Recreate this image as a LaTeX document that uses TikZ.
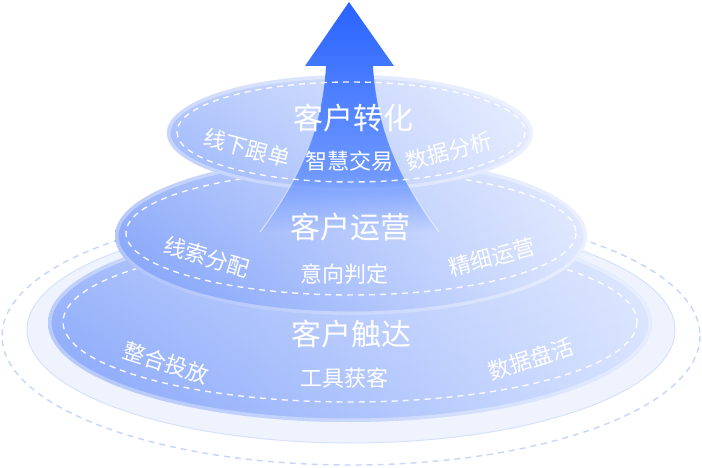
\documentclass[tikz,border=0pt]{standalone}
\usepackage{fontspec}
\newfontfamily\cjk{Noto Sans CJK SC}
\usetikzlibrary{fadings}
\definecolor{outerdash}{HTML}{C5D5FB}
\definecolor{palefill}{HTML}{EEF3FE}
\definecolor{paleline}{HTML}{D6E2FD}
\definecolor{botL}{HTML}{84A4FB}
\definecolor{botR}{HTML}{D5E1FE}
\definecolor{midL}{HTML}{7B9DFA}
\definecolor{midR}{HTML}{DBE5FE}
\definecolor{topL}{HTML}{9AB5FC}
\definecolor{topR}{HTML}{E0E8FE}
\definecolor{arrTop}{HTML}{2863FF}
\definecolor{arrBot}{HTML}{6F98FF}
\tikzfading[name=lowfade, top color=transparent!0, middle color=transparent!60, bottom color=transparent!100]
\tikzfading[name=topglow, top color=transparent!70, bottom color=transparent!100]
\tikzfading[name=edgefade, top color=transparent!100, bottom color=transparent!35]
\tikzset{
  ringline/.style={draw=white, line width=1.4pt, dash pattern=on 6pt off 5pt, opacity=.9},
  bigtext/.style={text=white, font=\cjk\fontsize{30pt}{32pt}\selectfont, inner sep=0pt},
  smalltext/.style={text=white, font=\cjk\fontsize{22pt}{24pt}\selectfont, inner sep=0pt},
  rimline/.style={draw=white, opacity=.35, line width=7pt},
}
\begin{document}
\begin{tikzpicture}[x=1pt,y=-1pt]
\useasboundingbox (0,0) rectangle (702,468);
% centres
\coordinate (Oc) at (351,336);
\coordinate (Pc) at (351,330);
\coordinate (Bc) at (350,323);
\coordinate (Br) at (350,322);
\coordinate (Mc) at (351,236);
\coordinate (Mr) at (351,233);
\coordinate (Tc) at (350,133);
\coordinate (Tr) at (351,132);
% outer dashed ring
\draw[outerdash, line width=1.4pt, dash pattern=on 6pt off 5pt] (Oc) ellipse [x radius=349, y radius=129];
% pale base
\draw[paleline, fill=palefill, line width=1pt] (Pc) ellipse [x radius=324, y radius=113];
% bottom layer
\shade[left color=botL, right color=botR] (Bc) ellipse [x radius=302, y radius=99];
\fill[white, path fading=topglow] (Bc) ellipse [x radius=302, y radius=99];
\begin{scope}
\clip (Bc) ellipse [x radius=302, y radius=99];
\draw[rimline] (Bc) ellipse [x radius=302, y radius=99];
\end{scope}
\draw[ringline] (Br) ellipse [x radius=287, y radius=80];
% middle layer
\shade[left color=midL, right color=midR] (Mc) ellipse [x radius=236, y radius=79];
\fill[white, path fading=topglow] (Mc) ellipse [x radius=236, y radius=79];
\begin{scope}
\clip (Mc) ellipse [x radius=236, y radius=79];
\draw[rimline] (Mc) ellipse [x radius=236, y radius=79];
\end{scope}
\draw[ringline] (Mr) ellipse [x radius=225, y radius=62];
% top layer
\shade[left color=topL, right color=topR] (Tc) ellipse [x radius=183, y radius=58];
\fill[white, path fading=topglow] (Tc) ellipse [x radius=183, y radius=58];
\begin{scope}
\clip (Tc) ellipse [x radius=183, y radius=58];
\draw[rimline] (Tc) ellipse [x radius=183, y radius=58];
\end{scope}
% arrow
\coordinate (tip) at (349,2);
\coordinate (hl) at (305,66);
\coordinate (hr) at (394,66);
\coordinate (sl) at (326,66);
\coordinate (sr) at (373,66);
\coordinate (ml) at (296.25,175);
\coordinate (mr) at (402.75,175);
\coordinate (bl) at (260,232);
\coordinate (br) at (439,232);
\shade[top color=arrTop, bottom color=arrBot]
  (tip) -- (hr) -- (sr) .. controls (375.45,108.23) and (386.51,143.34) .. (mr)
  -- (ml) .. controls (312.49,143.34) and (323.55,108.23) .. (sl) -- (hl) -- cycle;
\fill[arrBot, path fading=lowfade]
  (ml) -- (mr) .. controls (413.04,195.07) and (425.42,213.76) .. (br)
  -- (bl) .. controls (273.58,213.76) and (285.96,195.07) .. (ml) -- cycle;
\draw[white, line width=1pt, path fading=edgefade] (sl) .. controls (322,135) and (295,185) .. (bl);
\draw[white, line width=1pt, path fading=edgefade] (sr) .. controls (377,135) and (404,185) .. (br);
\draw[ringline] (Tr) ellipse [x radius=174, y radius=50];
% texts
\node[bigtext] (t1) at (353,118.5) {客户转化};
\node[smalltext, rotate=-15] (t1a) at (247,148) {线下跟单};
\node[smalltext] (t1b) at (349,161) {智慧交易};
\node[smalltext, rotate=15] (t1c) at (449,151) {数据分析};
\node[bigtext] (t2) at (350,227) {客户运营};
\node[smalltext, rotate=-16] (t2a) at (207,257) {线索分配};
\node[smalltext] (t2b) at (344.5,274) {意向判定};
\node[smalltext, rotate=15] (t2c) at (492,257) {精细运营};
\node[bigtext] (t3) at (351,334) {客户触达};
\node[smalltext, rotate=-18] (t3a) at (166,363) {整合投放};
\node[smalltext] (t3b) at (344,378) {工具获客};
\node[smalltext, rotate=18] (t3c) at (531,359) {数据盘活};
\end{tikzpicture}
\end{document}
